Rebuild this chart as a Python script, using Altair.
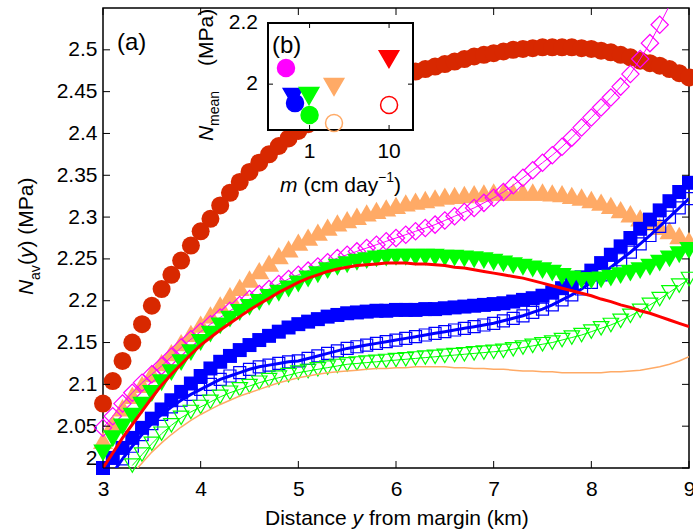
import altair as alt
import pandas as pd

FONT = "Liberation Sans"
W, H = 586, 460

# ---------------- data ----------------
X = [3.0, 3.1, 3.2, 3.3, 3.4, 3.5, 3.6, 3.7, 3.8, 3.9,
     4.0, 4.1, 4.2, 4.3, 4.4, 4.5, 4.6, 4.7, 4.8, 4.9,
     5.0, 5.1, 5.2, 5.3, 5.4, 5.5, 5.6, 5.7, 5.8, 5.9,
     6.0, 6.1, 6.2, 6.3, 6.4, 6.5, 6.6, 6.7, 6.8, 6.9,
     7.0, 7.1, 7.2, 7.3, 7.4, 7.5, 7.6, 7.7, 7.8, 7.9,
     8.0, 8.1, 8.2, 8.3, 8.4, 8.5, 8.6, 8.7, 8.8, 8.9,
     9.0]

RED_CIRCLES = [2.077, 2.104, 2.128, 2.150, 2.172, 2.194, 2.214, 2.231, 2.248, 2.266,
               2.283, 2.298, 2.314, 2.329, 2.342, 2.354, 2.365, 2.375, 2.385, 2.394,
               2.403, 2.411, 2.419, 2.426, 2.433, 2.440, 2.446, 2.452, 2.458, 2.463,
               2.467, 2.471, 2.474, 2.477, 2.480, 2.483, 2.486, 2.489, 2.492, 2.494,
               2.496, 2.498, 2.500, 2.501, 2.502, 2.503, 2.503, 2.503, 2.503, 2.502,
               2.501, 2.499, 2.497, 2.494, 2.491, 2.487, 2.484, 2.481, 2.477, 2.472,
               2.467]

TAN_TRI = [2.033, 2.053, 2.072, 2.087, 2.100, 2.113, 2.126, 2.138, 2.150, 2.161,
           2.172, 2.183, 2.195, 2.206, 2.216, 2.226, 2.236, 2.245, 2.254, 2.262,
           2.270, 2.276, 2.282, 2.288, 2.293, 2.297, 2.301, 2.305, 2.308, 2.311,
           2.314, 2.317, 2.319, 2.321, 2.323, 2.325, 2.326, 2.327, 2.328, 2.329,
           2.330, 2.330, 2.330, 2.330, 2.330, 2.330, 2.329, 2.328, 2.326, 2.324,
           2.321, 2.318, 2.314, 2.309, 2.304, 2.299, 2.294, 2.289, 2.284, 2.278,
           2.272]

MAG_DIAM = [2.048, 2.062, 2.077, 2.090, 2.102, 2.112, 2.122, 2.133, 2.144, 2.154,
            2.163, 2.172, 2.180, 2.188, 2.195, 2.202, 2.208, 2.214, 2.220, 2.226,
            2.231, 2.236, 2.241, 2.246, 2.251, 2.255, 2.259, 2.263, 2.267, 2.271,
            2.275, 2.279, 2.283, 2.287, 2.291, 2.296, 2.301, 2.306, 2.311, 2.317,
            2.323, 2.330, 2.338, 2.347, 2.356, 2.365, 2.374, 2.384, 2.395, 2.407,
            2.419, 2.431, 2.443, 2.456, 2.471, 2.489, 2.508, 2.530, 2.553]

BLUE_FILLED = [2.000, 2.012, 2.024, 2.036, 2.048, 2.059, 2.070, 2.081, 2.091, 2.101,
               2.110, 2.119, 2.127, 2.134, 2.141, 2.147, 2.153, 2.158, 2.163, 2.168,
               2.172, 2.175, 2.178, 2.181, 2.183, 2.185, 2.186, 2.187, 2.188, 2.188,
               2.189, 2.189, 2.189, 2.190, 2.190, 2.191, 2.192, 2.193, 2.194, 2.195,
               2.196, 2.197, 2.199, 2.201, 2.203, 2.206, 2.210, 2.215, 2.221, 2.228,
               2.236, 2.245, 2.255, 2.265, 2.275, 2.286, 2.297, 2.308, 2.319, 2.330,
               2.341]

BLUE_OPEN = [1.994, 2.011, 2.026, 2.040, 2.053, 2.064, 2.073, 2.081, 2.088,
             2.094, 2.100, 2.106, 2.110, 2.114, 2.118, 2.121, 2.123, 2.125, 2.127,
             2.128, 2.131, 2.134, 2.137, 2.140, 2.143, 2.145, 2.147, 2.149, 2.151,
             2.153, 2.155, 2.157, 2.159, 2.161, 2.163, 2.165, 2.167, 2.169, 2.171,
             2.173, 2.176, 2.179, 2.182, 2.186, 2.190, 2.195, 2.201, 2.207, 2.214,
             2.222, 2.231, 2.240, 2.249, 2.258, 2.268, 2.278, 2.289, 2.300, 2.311,
             2.322]

GREEN_OPEN = [2.003, 2.016, 2.029, 2.041, 2.051, 2.060, 2.067,
              2.073, 2.079, 2.085, 2.090, 2.094, 2.098, 2.102, 2.105, 2.108, 2.111,
              2.114, 2.116, 2.118, 2.120, 2.122, 2.124, 2.125, 2.126, 2.127, 2.128,
              2.129, 2.130, 2.131, 2.132, 2.133, 2.134, 2.135, 2.136, 2.137, 2.138,
              2.139, 2.140, 2.142, 2.144, 2.146, 2.148, 2.150, 2.153, 2.156, 2.159,
              2.163, 2.167, 2.171, 2.176, 2.182, 2.188, 2.195, 2.202, 2.210, 2.218,
              2.226]

ORANGE_LINE = [1.993, 2.006, 2.019, 2.030, 2.040, 2.049, 2.057,
               2.064, 2.070, 2.076, 2.081, 2.086, 2.090, 2.094, 2.098, 2.102, 2.105,
               2.108, 2.110, 2.112, 2.114, 2.115, 2.116, 2.117, 2.118, 2.119, 2.119,
               2.120, 2.120, 2.121, 2.121, 2.121, 2.121, 2.120, 2.120, 2.119, 2.119,
               2.118, 2.118, 2.117, 2.116, 2.116, 2.115, 2.115, 2.114, 2.114, 2.114,
               2.114, 2.114, 2.115, 2.115, 2.116, 2.117, 2.119, 2.121, 2.124, 2.128,
               2.133]

GREEN_FILLED = [2.018, 2.035, 2.049, 2.062, 2.075, 2.089, 2.102, 2.114, 2.126, 2.138,
                2.150, 2.160, 2.170, 2.178, 2.186, 2.192, 2.198, 2.204, 2.209, 2.214,
                2.220, 2.226, 2.231, 2.236, 2.240, 2.243, 2.246, 2.248, 2.250, 2.251,
                2.252, 2.252, 2.252, 2.252, 2.252, 2.251, 2.251, 2.250, 2.249, 2.248,
                2.246, 2.244, 2.242, 2.240, 2.238, 2.236, 2.233, 2.229, 2.226, 2.224,
                2.224, 2.225, 2.227, 2.230, 2.233, 2.236, 2.240, 2.245, 2.250, 2.255,
                2.260]

RED_LINE = [2.000, 2.018, 2.036, 2.052, 2.068, 2.084, 2.099, 2.112, 2.124, 2.136,
            2.147, 2.156, 2.165, 2.173, 2.181, 2.189, 2.196, 2.203, 2.210, 2.216,
            2.222, 2.227, 2.231, 2.235, 2.238, 2.240, 2.242, 2.243, 2.244, 2.245,
            2.245, 2.245, 2.244, 2.244, 2.243, 2.242, 2.240, 2.239, 2.237, 2.235,
            2.233, 2.231, 2.229, 2.227, 2.224, 2.221, 2.218, 2.215, 2.212, 2.209,
            2.206, 2.202, 2.199, 2.195, 2.192, 2.188, 2.185, 2.181, 2.177, 2.173,
            2.169]

X_TICKS = [3, 4, 5, 6, 7, 8, 9]
Y_TICKS = [2.0, 2.05, 2.1, 2.15, 2.2, 2.25, 2.3, 2.35, 2.4, 2.45, 2.5]

# inset (b): m (cm/day) vs N_mean (MPa)
IN_M = [0.505, 0.619, 0.656, 0.984, 1.0, 2.03, 2.03, 9.98, 10.0]
IN_N = [2.053, 1.958, 1.938, 1.961, 1.899, 1.991, 1.873, 2.082, 1.932]
IN_SHAPE = ["circle", "triangle-down", "circle", "triangle-down", "circle",
            "triangle-down", "circle", "triangle-down", "circle"]
IN_COLOR = ["#ff00ff", "#0000ff", "#0000ff", "#00ff00", "#00ff00",
            "#ffaa66", "#ffaa66", "#ff0000", "#ff0000"]
IN_FILLED = [True, True, True, True, True, True, False, True, False]
IN_XTICKS = [1, 10]
IN_YTICKS = [2.0, 2.2]

RED_C = "#d82800"
TAN = "#ffaa66"
MAG = "#ff00ff"
BLUE = "#0000ff"
GREEN = "#00ff00"

# ---------------- main axes ----------------
xs = alt.Scale(domain=[3, 9], nice=False, zero=False)
ys = alt.Scale(domain=[2.0, 2.55], nice=False, zero=False)
xaxis = alt.Axis(values=X_TICKS, title=None, ticks=False, domain=False, grid=False,
                 labelFont=FONT, labelFontSize=21, labelColor="black",
                 labelPadding=10, labelFlush=False, labelOverlap=False, format="~g")
yaxis = alt.Axis(values=Y_TICKS, title=None, ticks=False, domain=False, grid=False,
                 labelFont=FONT, labelFontSize=21, labelColor="black",
                 labelPadding=6, labelFlush=False, labelOverlap=False, format=".6~g",
                 labelBaseline={"condition": {"test": "datum.value <= 2.001", "value": "bottom"},
                                "value": "middle"})
EX = alt.X("x:Q", scale=xs, axis=xaxis)
EY = alt.Y("v:Q", scale=ys, axis=yaxis)


def df(xv, vv):
    return pd.DataFrame({"x": xv, "v": vv})


def pts(xv, vv, shape, color, size, filled=True, sw=1.0):
    c = alt.Chart(df(xv, vv)).mark_point(shape=shape, filled=filled, color=color,
                                          size=size, opacity=1, strokeWidth=sw)
    return c.transform_filter("datum.v >= 2 && datum.v <= 2.55").encode(x=EX, y=EY)


def line(xv, vv, color, sw):
    return alt.Chart(df(xv, vv)).mark_line(color=color, strokeWidth=sw, clip=True).encode(x=EX, y=EY)


main_layers = [
    pts(X, RED_CIRCLES, "circle", RED_C, 324),
    pts(X, TAN_TRI, "triangle-up", TAN, 400),
    line(X[:len(MAG_DIAM)], MAG_DIAM, MAG, 1),
    pts(X[:len(MAG_DIAM)], MAG_DIAM, "diamond", MAG, 300, filled=False, sw=1.2),
    pts(X, BLUE_FILLED, "square", BLUE, 196),
    line(X[1:], BLUE_OPEN, BLUE, 3),
    pts(X[1:], BLUE_OPEN, "square", BLUE, 144, filled=False, sw=1.2),
    line(X[3:], GREEN_OPEN, GREEN, 1),
    pts(X[3:], GREEN_OPEN, "triangle-down", GREEN, 240, filled=False, sw=1.2),
    line(X[3:], ORANGE_LINE, TAN, 1.5),
    pts(X, GREEN_FILLED, "triangle-down", GREEN, 380),
    line(X, RED_LINE, "#ff0000", 3),
]

TL = 7
xt = pd.DataFrame({"x": X_TICKS})
yt = pd.DataFrame({"v": Y_TICKS})
tick_layers = [
    alt.Chart(xt).mark_rule(color="black", strokeWidth=1).encode(x=EX, y=alt.value(H), y2=alt.value(H - TL)),
    alt.Chart(xt).mark_rule(color="black", strokeWidth=1).encode(x=EX, y=alt.value(0), y2=alt.value(TL)),
    alt.Chart(yt).mark_rule(color="black", strokeWidth=1).encode(y=EY, x=alt.value(0), x2=alt.value(TL)),
    alt.Chart(yt).mark_rule(color="black", strokeWidth=1).encode(y=EY, x=alt.value(W), x2=alt.value(W - TL)),
]

main = alt.layer(*main_layers, *tick_layers)

# ---------------- inset ----------------
IL, IR, IT, IB = 165, 310, 15, 122
isx = alt.Scale(type="log", domain=[0.3, 20], range=[IL, IR], nice=False)
isy = alt.Scale(domain=[1.85, 2.2], range=[IB, IT], nice=False, zero=False)
IX = alt.X("m:Q", scale=isx, axis=None)
IY = alt.Y("n:Q", scale=isy, axis=None)

inset_df = pd.DataFrame({
    "m": IN_M, "n": IN_N, "shape": IN_SHAPE, "stroke": IN_COLOR,
    "fill": [c if f else "transparent" for c, f in zip(IN_COLOR, IN_FILLED)],
    "size": [380 if s.startswith("triangle") else 289 for s in IN_SHAPE],
})

one = pd.DataFrame({"a": [0]})
frame = alt.Chart(one).mark_rect(fill="white", stroke="black", strokeWidth=2).encode(
    x=alt.value(IL), x2=alt.value(IR), y=alt.value(IT), y2=alt.value(IB))
ixt = pd.DataFrame({"m": IN_XTICKS, "lab": ["1", "10"]})
iyt = pd.DataFrame({"n": IN_YTICKS, "lab": ["2", "2.2"]})
ITL = 5
inset_layers = [
    frame,
    alt.Chart(ixt).mark_rule(color="black", strokeWidth=1).encode(x=IX, y=alt.value(IB), y2=alt.value(IB - ITL)),
    alt.Chart(ixt).mark_rule(color="black", strokeWidth=1).encode(x=IX, y=alt.value(IT), y2=alt.value(IT + ITL)),
    alt.Chart(iyt).mark_rule(color="black", strokeWidth=1).encode(y=IY, x=alt.value(IL), x2=alt.value(IL + ITL)),
    alt.Chart(iyt).mark_rule(color="black", strokeWidth=1).encode(y=IY, x=alt.value(IR), x2=alt.value(IR - ITL)),
    alt.Chart(inset_df).mark_point(opacity=1, strokeWidth=1.5).encode(
        x=IX, y=IY,
        shape=alt.Shape("shape:N", scale=None),
        stroke=alt.Stroke("stroke:N", scale=None),
        fill=alt.Fill("fill:N", scale=None),
        size=alt.Size("size:Q", scale=None)),
    alt.Chart(ixt).mark_text(font=FONT, fontSize=21, color="black", align="center",
                             baseline="alphabetic").encode(x=IX, y=alt.value(150), text="lab:N"),
    alt.Chart(iyt).mark_text(font=FONT, fontSize=21, color="black", align="right",
                             baseline="middle").encode(y=IY, x=alt.value(155), text="lab:N"),
]
inset = alt.layer(*inset_layers)


# ---------------- text pieces (titles / panel labels) ----------------
def txt(s, x, y, size=21, italic=False, angle=0, align="left", baseline="alphabetic"):
    kw = dict(font=FONT, fontSize=size, color="black", align=align, baseline=baseline)
    if italic:
        kw["fontStyle"] = "italic"
    if angle:
        kw["angle"] = angle
    return alt.Chart(pd.DataFrame({"t": [s]})).mark_text(**kw).encode(
        x=alt.value(x), y=alt.value(y), text="t:N")


texts = [
    # x title: Distance y from margin (km)
    txt("Distance", 162, 517),
    txt("y", 249.5, 517, italic=True),
    txt("from margin (km)", 266, 517),
    # y title: N_av(y) (MPa)
    txt("N", -70, 287, italic=True, angle=270),
    txt("av", -63, 272, size=14, angle=270),
    txt("(", -70, 257, angle=270),
    txt("y", -70, 250, italic=True, angle=270),
    txt(") (MPa)", -70, 239.5, angle=270),
    # panel labels
    txt("(a)", 14, 42, size=24),
    txt("(b)", 169, 45, size=24),
    # inset x title: m (cm day^-1)
    txt("m", 177, 184, italic=True),
    txt("(cm day", 200.5, 184),
    txt("\u22121", 275, 174, size=14),
    txt(")", 291, 184),
    # inset y title: N_mean (MPa)
    txt("N", 110, 133, italic=True, angle=270),
    txt("mean", 116, 118, size=14, angle=270),
    txt("(MPa)", 110, 58, angle=270),
]

chart = alt.layer(main, inset, *texts).resolve_scale(
    x="independent", y="independent"
).properties(
    width=W, height=H,
    autosize=alt.AutoSizeParams(type="none"),
    padding={"left": 103, "top": 8, "right": 4, "bottom": 62},
    background="white",
).configure_view(stroke="black", strokeWidth=1.5)

chart.save("out.html", embed_options={"renderer": "svg", "actions": False})
